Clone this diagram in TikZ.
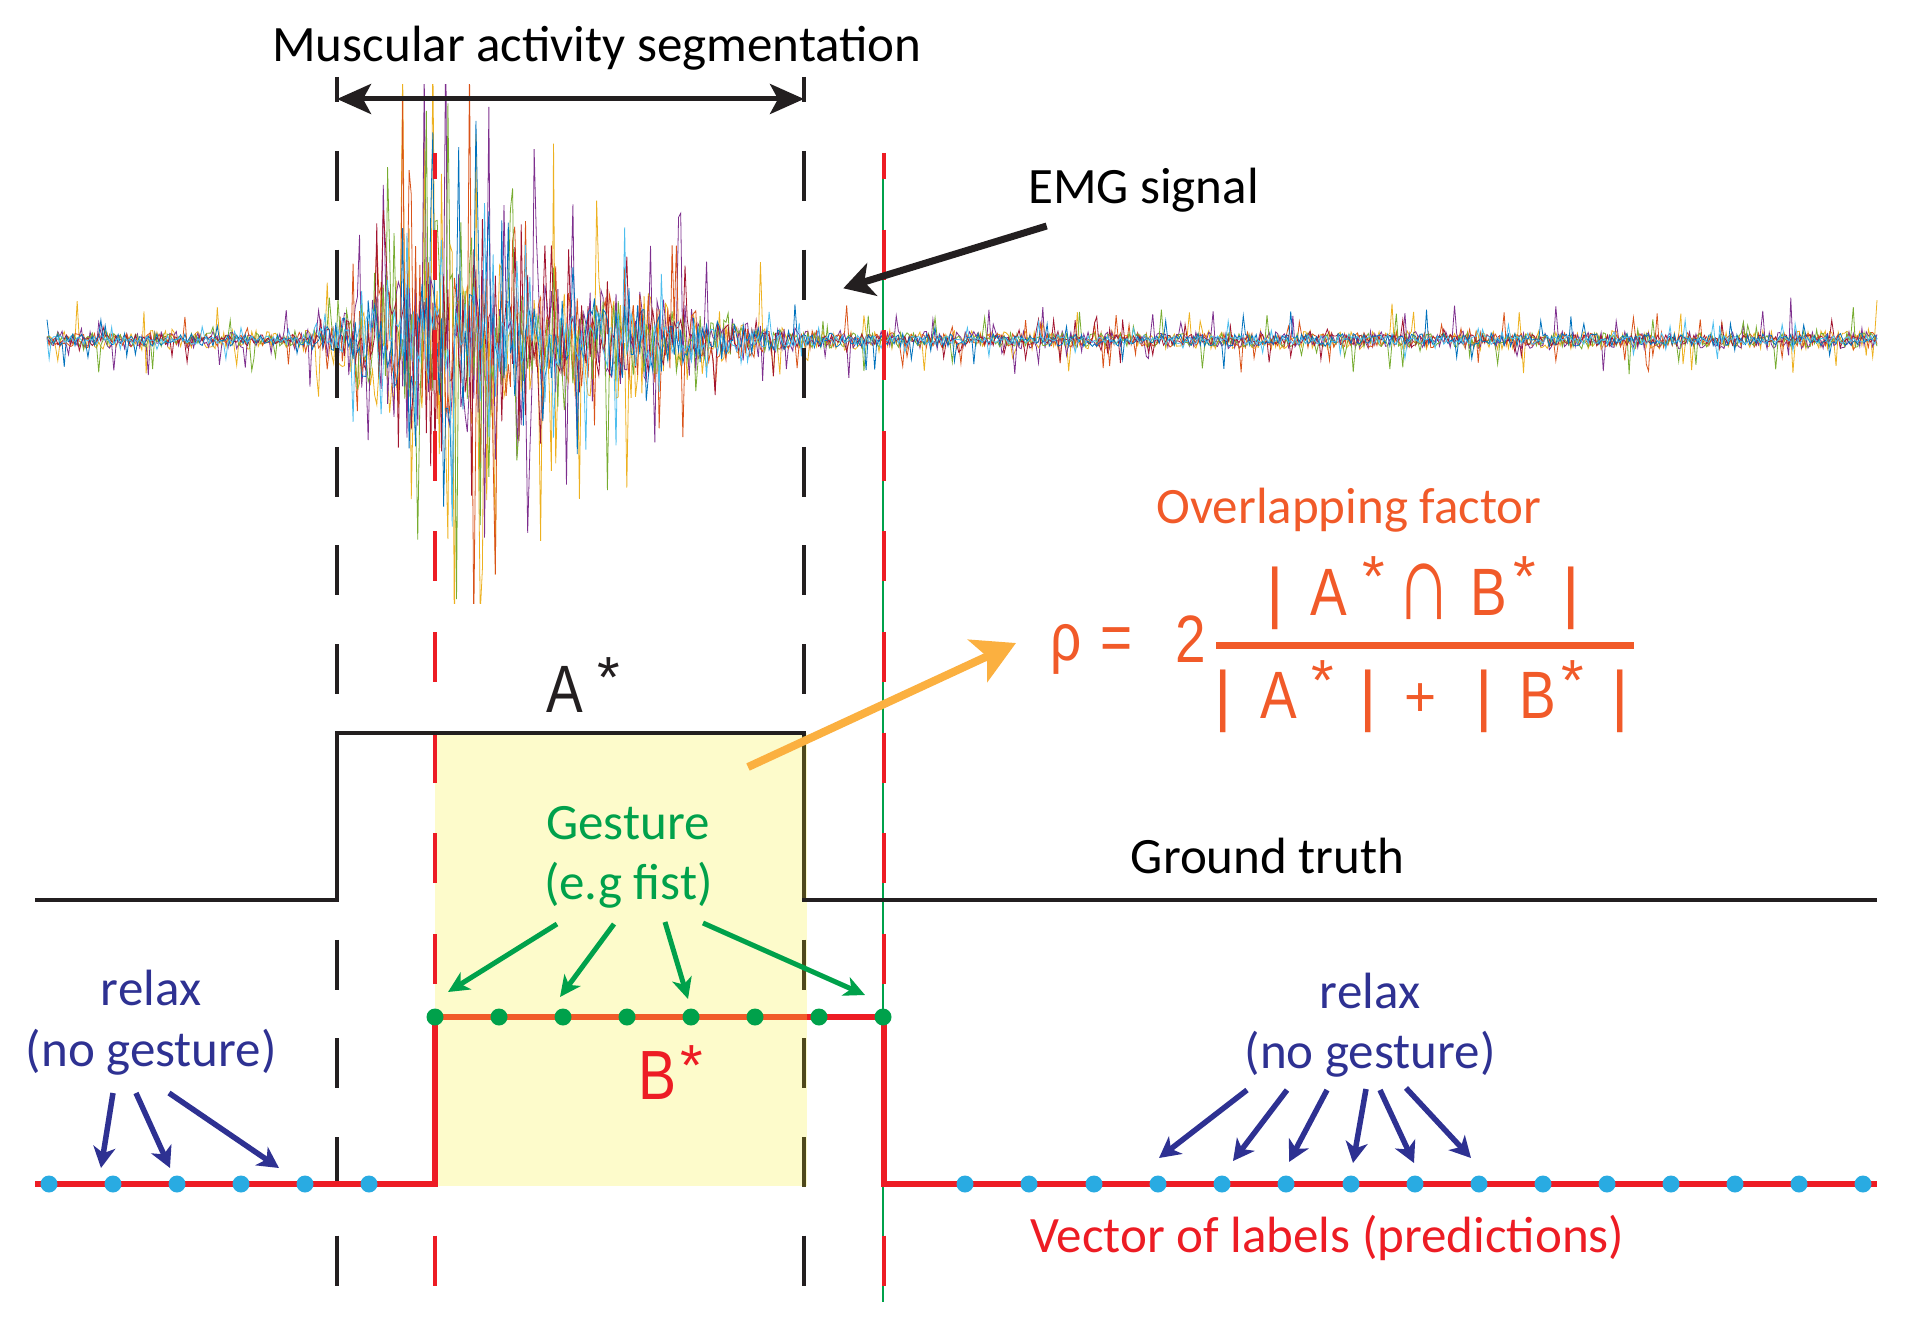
\documentclass[tikz,border=0pt]{standalone}
\usepackage{fontspec}
\setmainfont{Carlito}
\newfontfamily\helv{Liberation Sans}
\usetikzlibrary{arrows.meta}
\definecolor{emgB}{HTML}{0072BD}
\definecolor{emgO}{HTML}{D95319}
\definecolor{emgY}{HTML}{EDB120}
\definecolor{emgP}{HTML}{7E2F8E}
\definecolor{emgG}{HTML}{77AC30}
\definecolor{emgC}{HTML}{4DBEEE}
\definecolor{emgR}{HTML}{A2142F}
\definecolor{ink}{HTML}{231F20}
\definecolor{navy}{HTML}{2E3192}
\definecolor{grn}{HTML}{00A14B}
\definecolor{redl}{HTML}{ED1C24}
\definecolor{orng}{HTML}{F15A29}
\definecolor{amber}{HTML}{FBB040}
\definecolor{sky}{HTML}{29ABE2}
\definecolor{pale}{HTML}{FDFBCB}
\definecolor{oliv}{HTML}{4F481C}
\begin{document}
\begin{tikzpicture}[x=1pt,y=-1pt,
  lbl/.style={font=\fontsize{51}{60}\selectfont, inner sep=0pt, anchor=base},
  glyph/.style={font=\helv\fontsize{67}{70}\selectfont, inner sep=0pt, anchor=base, text=orng},
  star/.style={font=\helv\fontsize{58}{70}\selectfont, inner sep=0pt, anchor=north, text=orng},
  bdot/.style={circle, fill=sky, inner sep=0pt, minimum size=17pt},
  gdot/.style={circle, fill=grn, inner sep=0pt, minimum size=17pt},
  blackdash/.style={ink, line width=4pt, dash pattern=on 50pt off 48.6pt},
  reddash/.style={redl, line width=4pt, dash pattern=on 50pt off 50.6pt, dash phase=24pt},
  bluearr/.style={navy, line width=5.5pt, -{Stealth[length=21pt,width=22pt,inset=6pt]}},
  greenarr/.style={grn, line width=5pt, -{Stealth[length=21pt,width=20pt,inset=6pt]}},
  declare function={
    gss(\x,\m,\s)=exp(-min(((\x-\m)/\s)^2,15));
    band(\x)=8+75*gss(\x,445,60)+45*gss(\x,600,120)+30*gss(\x,370,35);
    spk(\x)=32+215*gss(\x,445,55)+130*gss(\x,600,130)+80*gss(\x,370,40);
    prob(\x)=0.07+0.22*gss(\x,460,110);
  }
]
\useasboundingbox (0,0) rectangle (1912,1327);
\pgfmathsetseed{11}
% EMG signal
\begin{scope}
\clip (40,85) rectangle (1885,603);
\foreach \col/\g in {emgY/1.2, emgP/1.1, emgO/0.95, emgG/0.9, emgR/0.7, emgB/0.8, emgC/0.55}{
  \draw[\col, line width=0.8pt] plot[domain=47:1877, samples=850] (\x, {340 - \g*(band(\x)*rand + (rnd<prob(\x))*spk(\x)*(2*(rnd>0.5)-1)*(0.25+0.75*rnd))});
}
\end{scope}
% gesture area
\fill[pale] (435,733) rectangle (807,1186);
% vertical guides
\draw[grn, line width=1.4pt] (883,153) -- (883,1302);
\draw[blackdash] (337,151) -- (337,1286);
\draw[blackdash] (804,151) -- (804,1286);
\begin{scope}
\clip (435,733) rectangle (807,1186);
\draw[blackdash, oliv] (804,151) -- (804,1286);
\end{scope}
\draw[reddash] (435,153) -- (435,1286);
\draw[reddash] (884,153) -- (884,1286);
% segmentation double arrow
\draw[ink, line width=4pt] (337,77) -- (337,102);
\draw[ink, line width=4pt] (804,77) -- (804,102);
\coordinate (segL) at (337,99);
\coordinate (segR) at (804,99);
\draw[ink, line width=5pt, {Stealth[length=34pt,width=30pt,inset=8pt]}-{Stealth[length=34pt,width=30pt,inset=8pt]}] (segL) -- (segR);
% ground truth
\draw[ink, line width=3.5pt] (35,900) -- (337,900) -- (337,733) -- (804,733) -- (804,900) -- (1877,900);
\draw[oliv, line width=3.5pt] (804,736) -- (804,898);
% predictions
\draw[redl, line width=5.5pt] (35,1184) -- (435,1184) -- (435,1017) -- (884,1017) -- (884,1184) -- (1877,1184);
\draw[orng, line width=5.5pt] (437,1017) -- (807,1017);
% dots
\foreach \i/\xx in {1/49,2/113,3/177,4/241,5/305,6/369}
  \node[bdot] (bl\i) at (\xx,1184) {};
\foreach \i/\xx in {1/965,2/1029,3/1094,4/1158,5/1222,6/1286,7/1351,8/1415,9/1479,10/1543,11/1607,12/1671,13/1735,14/1799,15/1863}
  \node[bdot] (br\i) at (\xx,1184) {};
\foreach \i/\xx in {1/435,2/499,3/563,4/627,5/691,6/755,7/819,8/883}
  \node[gdot] (g\i) at (\xx,1017) {};
% labels
\node[lbl] (title) at (597,62) {Muscular activity segmentation};
\node[lbl] (emg) at (1143.5,203) {EMG signal};
\node[lbl, text=orng] (ovl) at (1349,523) {Overlapping factor};
\node[lbl] (gt) at (1267.6,873) {Ground truth};
\node[lbl, text=grn] (gest) at (628,839.5) {Gesture};
\node[lbl, text=grn] (fist) at (628.5,899) {(e.g fist)};
\node[lbl, text=navy] (relaxL) at (151,1005) {relax};
\node[lbl, text=navy] (nogL) at (151.3,1066) {(no gesture)};
\node[lbl, text=navy] (relaxR) at (1370,1008) {relax};
\node[lbl, text=navy] (nogR) at (1370,1068) {(no gesture)};
\node[lbl, text=redl] (vec) at (1327.5,1252.7) {Vector of labels (predictions)};
% A* and B*
\node[glyph, text=ink] (Aa) at (564.5,712.7) {\scalebox{0.82}[1]{A}};
\node[star, text=ink] (As) at (609,657) {*};
\node[glyph, text=redl] (Bb) at (657,1099.5) {\scalebox{0.85}[1.04]{B}};
\node[star, text=redl] (Bs) at (692,1045) {*};
% formula
\node[glyph] (rho) at (1066,660) {\scalebox{0.82}[1]{ρ}};
\node[glyph] (eq) at (1116.5,660) {\scalebox{0.82}[1]{=}};
\node[glyph] (two) at (1190.5,662) {\scalebox{0.82}[1]{2}};
\draw[orng, line width=7pt] (1216,645) -- (1634,645);
\node[glyph] (n1) at (1275.4,615) {|};
\node[glyph] (nA) at (1329.3,615) {\scalebox{0.82}[1]{A}};
\node[star] (nAs) at (1373.5,556) {*};
\node[glyph] (ncap) at (1424,619) {\scalebox{1.15}[1.65]{∩}};
\node[glyph] (nB) at (1488.5,615) {\scalebox{0.82}[1]{B}};
\node[star] (nBs) at (1525,556) {*};
\node[glyph] (n2) at (1571,615) {|};
\node[glyph] (d1) at (1223,718) {|};
\node[glyph] (dA) at (1278.5,718) {\scalebox{0.82}[1]{A}};
\node[star] (dAs) at (1322.5,660) {*};
\node[glyph] (d2) at (1368,718) {|};
\node[glyph] (dplus) at (1420.8,716) {\scalebox{0.82}[0.85]{+}};
\node[glyph] (d3) at (1484,718) {|};
\node[glyph] (dB) at (1538,718) {\scalebox{0.82}[1]{B}};
\node[star] (dBs) at (1573,660) {*};
\node[glyph] (d4) at (1620.5,718) {|};
% EMG arrow
\coordinate (emgS) at (1046.7,226);
\coordinate (emgT) at (843.3,288.3);
\draw[ink, line width=7pt, -{Stealth[length=30pt,width=34pt,inset=8pt]}] (emgS) -- (emgT);
% overlap arrow
\coordinate (ovS) at (748,767);
\coordinate (ovT) at (1016,643);
\draw[amber, line width=8pt, -{Stealth[length=42pt,width=46pt,inset=10pt]}] (ovS) -- (ovT);
% gesture arrows
\coordinate (ga1) at (557,924); \coordinate (gb1) at (448,992);
\coordinate (ga2) at (614,924); \coordinate (gb2) at (560,997);
\coordinate (ga3) at (665,922); \coordinate (gb3) at (688,999);
\coordinate (ga4) at (703,923); \coordinate (gb4) at (865,995);
\foreach \i in {1,2,3,4} \draw[greenarr] (ga\i) -- (gb\i);
% relax arrows left
\coordinate (la1) at (113,1093); \coordinate (lb1) at (101,1168);
\coordinate (la2) at (136,1093); \coordinate (lb2) at (170,1168);
\coordinate (la3) at (169,1093); \coordinate (lb3) at (279,1168);
\foreach \i in {1,2,3} \draw[bluearr] (la\i) -- (lb\i);
% relax arrows right
\coordinate (ra1) at (1247,1090); \coordinate (rb1) at (1159,1158);
\coordinate (ra2) at (1287,1090); \coordinate (rb2) at (1233,1161);
\coordinate (ra3) at (1327,1090); \coordinate (rb3) at (1289,1162);
\coordinate (ra4) at (1366,1089); \coordinate (rb4) at (1353,1163);
\coordinate (ra5) at (1380,1090); \coordinate (rb5) at (1414,1163);
\coordinate (ra6) at (1406,1088); \coordinate (rb6) at (1471,1158);
\foreach \i in {1,...,6} \draw[bluearr] (ra\i) -- (rb\i);
\end{tikzpicture}
\end{document}
